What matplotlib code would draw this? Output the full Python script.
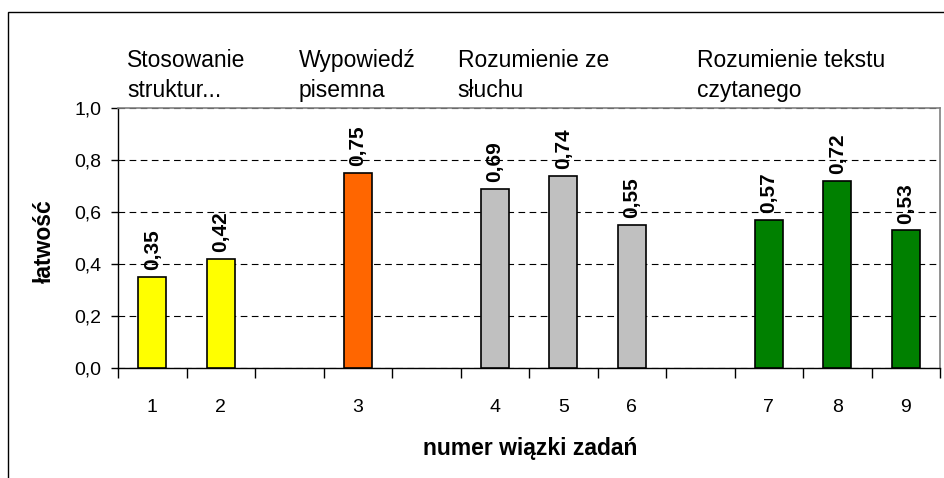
import numpy as np
import matplotlib.pyplot as plt
from matplotlib.patches import Rectangle
from matplotlib.ticker import FuncFormatter

plt.rcParams['font.family'] = ['Liberation Sans', 'DejaVu Sans']

# numer wiązki (puste miejsca rozdzielają grupy)
labels = ['1', '2', '', '3', '', '4', '5', '6', '', '7', '8', '9']
values = [0.35, 0.42, None, 0.75, None, 0.69, 0.74, 0.55, None, 0.57, 0.72, 0.53]
colors = ['#FFFF00', '#FFFF00', None, '#FF6600', None,
          '#C0C0C0', '#C0C0C0', '#C0C0C0', None,
          '#008000', '#008000', '#008000']
groups = [('Stosowanie', 'struktur...'), ('Wypowiedź', 'pisemna'),
          ('Rozumienie ze', 'słuchu'), ('Rozumienie tekstu', 'czytanego')]
group_x = [-0.37, 2.14, 4.46, 7.95]

W, H = 944, 478
fig = plt.figure(figsize=(W / 100, H / 100), dpi=100)
ax = fig.add_axes([118 / W, 1 - 368 / H, 822 / W, 260 / H])

# ramka całego wykresu
fig.patches.append(Rectangle((8 / W, -0.05), 1.05, 1 - 12 / H + 0.05,
                             transform=fig.transFigure, fill=False,
                             edgecolor='black', linewidth=1.0))

x = np.arange(len(labels))
for xi, v, c in zip(x, values, colors):
    if v is None:
        continue
    ax.bar(xi, v, width=0.41, color=c, edgecolor='black', linewidth=1.2, zorder=3)
    ax.text(xi, v + 0.025, f'{v:.2f}'.replace('.', ','), rotation=90,
            ha='center', va='bottom', fontsize=15, fontweight='bold', zorder=4)

ax.set_xlim(-0.5, len(labels) - 0.5)
ax.set_ylim(0, 1.0)
ax.set_yticks(np.arange(0, 1.01, 0.2))
ax.yaxis.set_major_formatter(FuncFormatter(lambda v, p: f'{v:.1f}'.replace('.', ',')))
ax.yaxis.grid(True, linestyle=(0, (6, 4)), color='black', linewidth=0.8)
ax.set_axisbelow(True)

# etykiety pod słupkami, kreski na granicach kategorii
ax.set_xticks(x)
ax.set_xticklabels(labels)
ax.set_xticks(np.arange(-0.5, len(labels), 1), minor=True)
ax.tick_params(axis='x', which='major', length=0, pad=22, labelsize=14)
ax.tick_params(axis='x', which='minor', length=7, width=1, color='black')
ax.tick_params(axis='y', length=5, width=1, labelsize=14, pad=7)

for side in ['top', 'right']:
    ax.spines[side].set_color('#808080')
    ax.spines[side].set_linewidth(1.2)
for side in ['left', 'bottom']:
    ax.spines[side].set_color('black')
    ax.spines[side].set_linewidth(1.0)

for gx, (line1, line2) in zip(group_x, groups):
    ax.text(gx, (368 - 67) / 260, line1, transform=ax.get_xaxis_transform(),
            ha='left', va='baseline', fontsize=16.5)
    ax.text(gx, (368 - 97) / 260, line2, transform=ax.get_xaxis_transform(),
            ha='left', va='baseline', fontsize=16.5)

fig.text(44 / W, 1 - 241 / H, 'łatwość', rotation=90, ha='center', va='center',
         fontsize=16.5, fontweight='bold')
fig.text(530 / W, 1 - 449 / H, 'numer wiązki zadań', ha='center', va='center',
         fontsize=16.5, fontweight='bold')

fig.savefig('out.png', dpi=100)
